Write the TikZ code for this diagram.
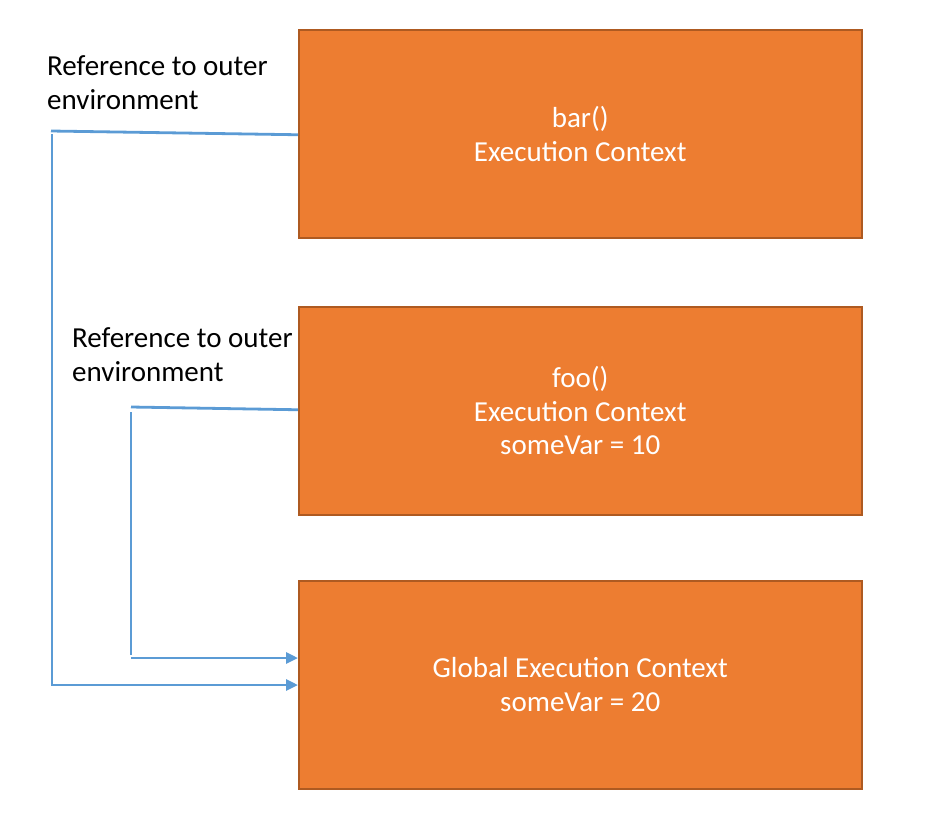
\documentclass[tikz,border=0pt]{standalone}
\usepackage{fontspec}
\setmainfont{Carlito}
\usetikzlibrary{arrows.meta}
\definecolor{boxfill}{HTML}{ED7D31}
\definecolor{boxline}{HTML}{AE5A21}
\definecolor{refline}{HTML}{5B9BD5}
\tikzset{
  ctxbox/.style={draw=boxline, line width=1.5pt, fill=boxfill, minimum width=563pt, minimum height=208pt, anchor=north west, inner sep=0pt, align=center, text=white, font=\fontsize{29}{33.5}\selectfont},
  reflabel/.style={anchor=north west, inner sep=0pt, align=left, font=\fontsize{29}{34}\selectfont},
  refseg/.style={draw=refline, line width=2.8pt},
  refarrow/.style={refseg, -{Triangle[length=12pt,width=11pt]}}
}
\begin{document}
\begin{tikzpicture}[x=1pt,y=-1pt]
\useasboundingbox (0,0) rectangle (952,820);
\node[ctxbox] (bar) at (298,29) {bar()\\Execution Context};
\node[ctxbox] (foo) at (298,306) {foo()\\Execution Context\\someVar = 10};
\node[ctxbox] (glob) at (298,580) {Global Execution Context\\someVar = 20};
\node[reflabel] (l1) at (47,55) {Reference to outer\\environment};
\node[reflabel] (l2) at (72,327) {Reference to outer\\environment};
% bar -> global
\coordinate (a1) at (51,131);
\coordinate (a2) at (52,134);
\coordinate (a3) at (52,684);
\coordinate (a4) at (51,685);
\draw[refseg] ([yshift=-1pt]bar.west) -- (a1);
\draw[refseg] (a2) -- (a3);
\draw[refarrow] (a4) -- (glob.west |- a4);
% foo -> global
\coordinate (b1) at (131,407);
\coordinate (b2) at (131,412);
\coordinate (b3) at (131,655);
\coordinate (b4) at (131,658);
\draw[refseg] ([yshift=1pt]foo.west) -- (b1);
\draw[refseg] (b2) -- (b3);
\draw[refarrow] (b4) -- (glob.west |- b4);
\end{tikzpicture}
\end{document}
